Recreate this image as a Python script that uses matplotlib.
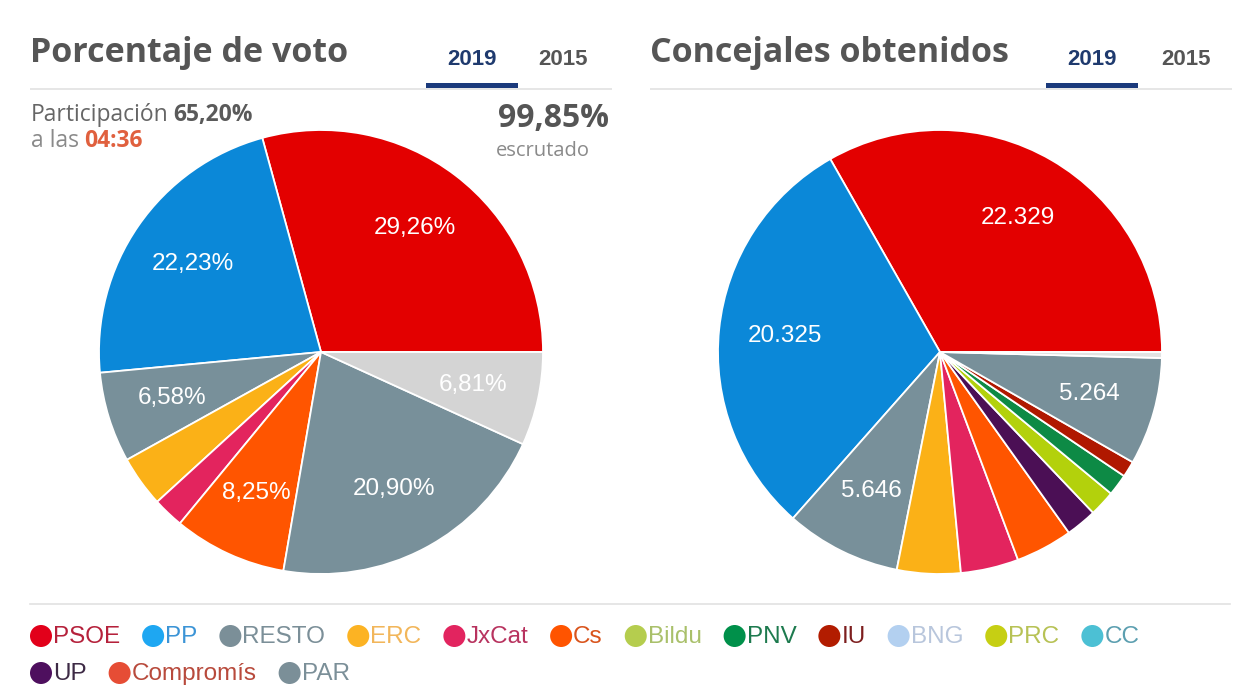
import matplotlib
matplotlib.use("Agg")
import matplotlib.pyplot as plt
from matplotlib.patches import Circle, Rectangle

W, H = 1247, 698

# --- datos: porcentaje de voto (2019) ---
partidos_voto = ["PSOE", "PP", "PAR", "ERC", "JxCat", "Cs", "RESTO", "Otros"]
pct_voto = [29.26, 22.23, 6.58, 3.72, 2.25, 8.25, 20.90, 6.81]
colores_voto = ["#e30000", "#0b88d8", "#78909a", "#fbb117", "#e3245e",
                "#ff5500", "#78909a", "#d4d4d4"]

# --- datos: concejales obtenidos (2019) ---
partidos_conc = ["PSOE", "PP", "PAR", "ERC", "JxCat", "Cs", "UP", "Bildu",
                 "PNV", "IU", "RESTO", "Otros"]
concejales = [22329, 20325, 5646, 3107, 2830, 2787, 1513, 1264, 1056, 785, 5264, 290]
colores_conc = ["#e30000", "#0b88d8", "#78909a", "#fbb117", "#e3245e",
                "#ff5500", "#4b0f55", "#b3d10c", "#0d8a45", "#b01800",
                "#78909a", "#e2e2e2"]

# --- leyenda ---
ley_nombres = ["PSOE", "PP", "RESTO", "ERC", "JxCat", "Cs", "Bildu", "PNV",
               "IU", "BNG", "PRC", "CC", "UP", "Compromís", "PAR"]
ley_color = ["#e2001a", "#1ea7f2", "#7b8f98", "#fcb323", "#e2245f", "#ff5400",
             "#b5cd4e", "#00904a", "#b21c00", "#b3d0f0", "#c6cf13", "#4cc0d4",
             "#4e0f5e", "#e64d35", "#7b8f98"]
ley_texto = ["#b5213b", "#3b94d6", "#7b8f98", "#f2b65a", "#b8335f", "#d9541c",
             "#a9c06a", "#1d7a4e", "#7d1e1e", "#b8c6dc", "#b7c255", "#5c9fb0",
             "#3d2a45", "#b84a3c", "#7b8f98"]
ley_fila = [0] * 12 + [1] * 3

fig = plt.figure(figsize=(W / 100, H / 100), dpi=100)
fig.patch.set_facecolor("white")
renderer = fig.canvas.get_renderer()

# capa de fondo en coordenadas de pixel
ax0 = fig.add_axes([0, 0, 1, 1])
ax0.set_xlim(0, W)
ax0.set_ylim(H, 0)
ax0.axis("off")

TIT = dict(family="Open Sans", fontweight="bold", fontsize=24.5, color="#555555", va="baseline")
TAB = dict(family="Liberation Sans", fontweight="bold", fontsize=16, va="baseline", ha="center")

# cabeceras
for x0, x1, titulo, ul0, ul1, c15 in [(30, 612, "Porcentaje de voto", 426, 518, 563),
                                     (650, 1232, "Concejales obtenidos", 1046, 1138, 1186)]:
    ax0.text(x0, 62, titulo, **TIT)
    ax0.plot([x0, x1], [89, 89], color="#e2e2e2", lw=1.2, solid_capstyle="butt")
    ax0.add_patch(Rectangle((ul0, 83), ul1 - ul0, 5, color="#1b3a7c", lw=0))
    ax0.text((ul0 + ul1) / 2, 65, "2019", color="#1f3a6e", **TAB)
    ax0.text(c15, 65, "2015", color="#555555", **TAB)


def texto_doble(x, y, a, b, ca, cb, size):
    t = ax0.text(x, y, a, family="Open Sans", fontsize=size, color=ca, va="baseline")
    w = t.get_window_extent(renderer).width
    ax0.text(x + w + 5, y, b, family="Open Sans", fontsize=size, fontweight="bold",
             color=cb, va="baseline")


texto_doble(31, 121, "Participación", "65,20%", "#666666", "#5a5a5a", 16.5)
texto_doble(31, 147, "a las", "04:36", "#8a8a8a", "#e0603e", 16.5)
ax0.text(609, 127, "99,85%", family="Open Sans", fontsize=23, fontweight="bold", color="#555555",
         va="baseline", ha="right")
ax0.text(496, 156, "escrutado", family="Open Sans", fontsize=14.5, color="#8a8a8a", va="baseline")

# tartas
R = 222


def tarta(cx, cy, valores, colores, etiquetas):
    ax = fig.add_axes([(cx - R) / W, (H - cy - R) / H, 2 * R / W, 2 * R / H])
    wedges, textos = ax.pie(valores, colors=colores, startangle=0, counterclock=True,
                            labels=etiquetas, labeldistance=0.7,
                            wedgeprops=dict(edgecolor="white", linewidth=1.3),
                            textprops=dict(color="white", fontsize=17.5, family="Liberation Sans"))
    for t in textos:
        t.set_horizontalalignment("center")
        t.set_verticalalignment("center")
    ax.set_xlim(-1, 1)
    ax.set_ylim(-1, 1)
    ax.axis("off")


etq_voto = [f"{v:.2f}%".replace(".", ",") if v > 5 else "" for v in pct_voto]
etq_conc = [f"{v:,}".replace(",", ".") if v > 5000 else "" for v in concejales]
tarta(321, 352, pct_voto, colores_voto, etq_voto)
tarta(940, 352, concejales, colores_conc, etq_conc)

# leyenda
ax0.plot([30, 1230], [604, 604], color="#e2e2e2", lw=1.2)
fila_y = [636, 673]
x = {0: 41, 1: 41}
for nombre, c, ct, f in zip(ley_nombres, ley_color, ley_texto, ley_fila):
    cx = x[f]
    ax0.add_patch(Circle((cx, fila_y[f]), 11, color=c, lw=0))
    t = ax0.text(cx + 12, fila_y[f] + 1, nombre, family="Liberation Sans", fontsize=17.5,
                 color=ct, va="center", ha="left")
    ancho = t.get_window_extent(renderer).width
    x[f] = cx + 12 + ancho + 33

fig.savefig("out.png", dpi=100, facecolor="white")
